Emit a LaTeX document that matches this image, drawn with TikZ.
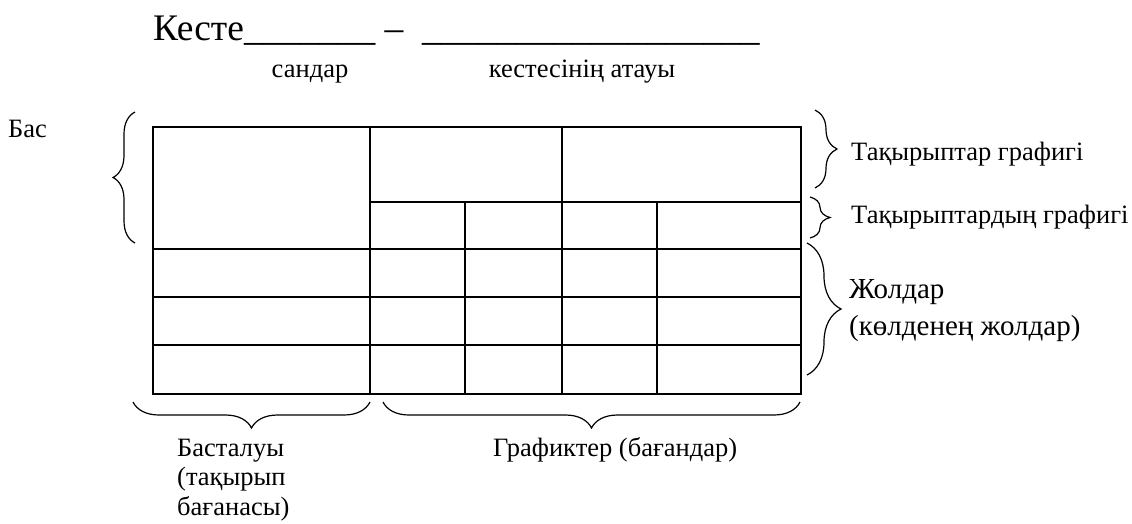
\documentclass[tikz,border=0pt]{standalone}
\usepackage{fontspec}
\setmainfont{Liberation Serif}
\usetikzlibrary{decorations.pathreplacing}
\tikzset{
  grid/.style={line width=1.6pt, line cap=rect},
  brc/.style={decorate, decoration={brace, amplitude=#1, aspect=0.5}, line width=1.2pt},
  lbl/.style={font=\fontsize{26.5}{29.5}\selectfont, inner sep=0pt},
}
\begin{document}
\begin{tikzpicture}[x=1pt,y=-1pt]
\useasboundingbox (0,0) rectangle (1132,523);
% title
\node[anchor=base west, inner sep=0pt, font=\fontsize{37.5}{40}\selectfont] (title) at (153,40) {Кесте\_\_\_\_\_\_\_ – \ \_\_\_\_\_\_\_\_\_\_\_\_\_\_\_\_\_\_};
\node[lbl, anchor=base] (num) at (310,77) {сандар};
\node[lbl, anchor=base] (name) at (582,77) {кестесінің атауы};
% table
\draw[grid] (153,127) rectangle (801,394);
\draw[grid] (370,202) -- (801,202);
\draw[grid] (153,249) -- (801,249);
\draw[grid] (153,297) -- (801,297);
\draw[grid] (153,345) -- (801,345);
\draw[grid] (370,127) -- (370,394);
\draw[grid] (562,127) -- (562,394);
\draw[grid] (465,202) -- (465,394);
\draw[grid] (657,202) -- (657,394);
% braces
\coordinate (l1) at (135,243); \coordinate (l2) at (135,112);
\draw[brc=22pt] (l1) -- (l2);
\coordinate (r1a) at (815,110); \coordinate (r1b) at (815,188);
\draw[brc=22pt] (r1a) -- (r1b);
\coordinate (r2a) at (810,197); \coordinate (r2b) at (810,238);
\draw[brc=20pt] (r2a) -- (r2b);
\coordinate (r3a) at (807,243); \coordinate (r3b) at (807,375);
\draw[brc=34pt] (r3a) -- (r3b);
\coordinate (b1a) at (370,402); \coordinate (b1b) at (133,402);
\draw[brc=26pt] (b1a) -- (b1b);
\coordinate (b2a) at (800,402); \coordinate (b2b) at (383,402);
\draw[brc=26pt] (b2a) -- (b2b);
% labels
\node[lbl, anchor=base west] (bas) at (8,137) {Бас};
\node[lbl, anchor=base west] (t1) at (851,160) {Тақырыптар графигі};
\node[lbl, anchor=base west] (t2) at (851,223) {Тақырыптардың графигі};
\node[anchor=base west, inner sep=0pt, font=\fontsize{29}{37}\selectfont] (rows1) at (849,298) {Жолдар};
\node[anchor=base west, inner sep=0pt, font=\fontsize{29}{37}\selectfont] (rows2) at (849,335) {(көлденең жолдар)};
\node[lbl, anchor=base west] (h1) at (177,456) {Басталуы};
\node[lbl, anchor=base west] (h2) at (177,485.5) {(тақырып};
\node[lbl, anchor=base west] (h3) at (177,515) {бағанасы)};
\node[lbl, anchor=base west] (cols) at (493,456) {Графиктер (бағандар)};
\end{tikzpicture}
\end{document}
